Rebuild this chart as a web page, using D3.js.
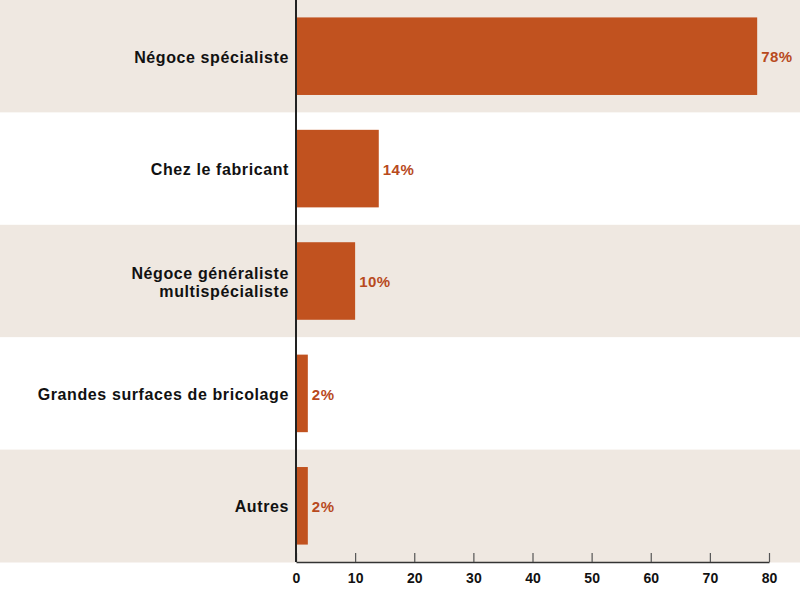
<!DOCTYPE html>
<html>
<head>
<meta charset="utf-8">
<script src="https://cdn.jsdelivr.net/npm/d3@7"></script>
<style>
  html, body { margin: 0; padding: 0; background: #fff; }
  svg { display: block; }
</style>
</head>
<body>
<div id="plot"></div>
<script>
// Data ===========================================================
const categories = [
  ['Négoce spécialiste'],
  ['Chez le fabricant'],
  ['Négoce généraliste', 'multispécialiste'],
  ['Grandes surfaces de bricolage'],
  ['Autres']
];
const values = [78, 14, 10, 2, 2];
const value_labels = ['78%', '14%', '10%', '2%', '2%'];
const x_ticks = [0, 10, 20, 30, 40, 50, 60, 70, 80];

const width = 800, height = 594;
const margin = { top: 0, right: 31, bottom: 32, left: 296 };

const bar_color = '#c1521f';
const band_color = '#efe8e1';
const font = '"Liberation Sans", Arial, sans-serif';

const svg = d3.select('#plot').append('svg')
  .attr('width', width).attr('height', height)
  .attr('viewBox', [0, 0, width, height]);

const sx = d3.scaleLinear()
  .domain([0, 80])
  .range([margin.left, width - margin.right]);
const sy = d3.scaleBand()
  .domain(d3.range(categories.length))
  .range([margin.top, height - margin.bottom])
  .padding(0);

const bar_h = sy.bandwidth() * 0.69;

// alternating bands
svg.append('g').selectAll('rect').data(d3.range(categories.length)).join('rect')
  .attr('x', 0).attr('width', width)
  .attr('y', i => sy(i)).attr('height', sy.bandwidth() + 0.5)
  .attr('fill', i => i % 2 ? '#fff' : band_color);

// bars
svg.append('g').selectAll('rect').data(values).join('rect')
  .attr('x', sx(0))
  .attr('y', (d, i) => sy(i) + (sy.bandwidth() - bar_h) / 2)
  .attr('width', d => sx(d) - sx(0))
  .attr('height', bar_h)
  .attr('fill', bar_color);

// value labels
svg.append('g')
  .style('font-family', font)
  .style('font-weight', 'bold').style('font-size', '15px')
  .style('letter-spacing', '0.5px')
  .attr('fill', '#b84a1d')
  .selectAll('text').data(values).join('text')
  .attr('x', d => sx(d) + 4)
  .attr('y', (d, i) => sy(i) + sy.bandwidth() / 2 + 1)
  .attr('dy', '0.35em')
  .text((d, i) => value_labels[i]);

// category labels
const lab = svg.append('g')
  .style('font-family', font)
  .style('font-weight', 'bold').style('font-size', '16px')
  .style('letter-spacing', '0.6px')
  .attr('fill', '#111')
  .attr('text-anchor', 'end')
  .selectAll('text').data(categories).join('text')
  .attr('x', sx(0) - 7)
  .attr('y', (d, i) => sy(i) + sy.bandwidth() / 2 + 1 - (d.length - 1) * 9);
lab.selectAll('tspan').data(d => d).join('tspan')
  .attr('x', sx(0) - 7)
  .attr('dy', (d, j) => j ? '18' : '0.35em')
  .text(d => d);

// x axis
const ax = d3.axisBottom(sx).tickValues(x_ticks).tickSize(0).tickPadding(11);
const gx = svg.append('g')
  .attr('transform', `translate(0,${height - margin.bottom})`)
  .call(ax);
gx.select('.domain').attr('stroke', '#333').attr('stroke-width', 1.5);
gx.selectAll('.tick line').remove();
gx.selectAll('.tick').append('line')
  .attr('y1', 0).attr('y2', -9)
  .attr('stroke', '#555').attr('stroke-width', 1.2);
gx.selectAll('.tick text')
  .style('font-family', font)
  .style('font-weight', 'bold').style('font-size', '14px')
  .attr('fill', '#111');

// y axis line
svg.append('line')
  .attr('x1', sx(0)).attr('x2', sx(0))
  .attr('y1', 0).attr('y2', height - margin.bottom)
  .attr('stroke', '#222').attr('stroke-width', 2);
</script>
</body>
</html>
